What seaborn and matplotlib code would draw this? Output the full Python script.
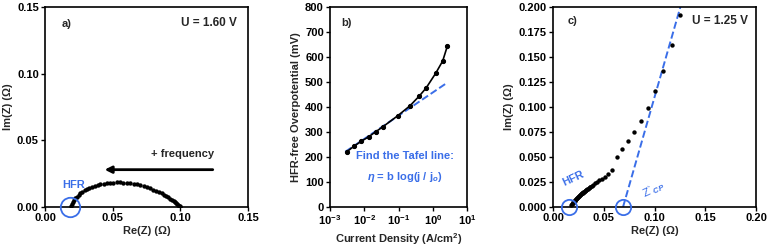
import numpy as np
import pandas as pd
import seaborn as sns
import matplotlib.pyplot as plt
import matplotlib.ticker as mticker

# ---- data: panel a) Nyquist at 1.60 V
re_a = [0.0195, 0.0200, 0.0207, 0.0215, 0.0225, 0.0236, 0.0248, 0.0262, 0.0277, 0.0293,
        0.0310, 0.0328, 0.0347, 0.0367, 0.0388, 0.0410, 0.0433, 0.0457, 0.0481, 0.0505,
        0.0530, 0.0555, 0.0580, 0.0605, 0.0630, 0.0655, 0.0680, 0.0705, 0.0730, 0.0755,
        0.0778, 0.0800, 0.0822, 0.0843, 0.0862, 0.0880, 0.0896, 0.0911, 0.0925, 0.0938,
        0.0950, 0.0960, 0.0970, 0.0978, 0.0985, 0.0991, 0.0996, 0.1000]
im_a = [0.0005, 0.0020, 0.0035, 0.0050, 0.0064, 0.0077, 0.0090, 0.0102, 0.0113, 0.0124,
        0.0134, 0.0143, 0.0151, 0.0158, 0.0164, 0.0169, 0.0174, 0.0178, 0.0181, 0.0183,
        0.0184, 0.0184, 0.0183, 0.0181, 0.0178, 0.0174, 0.0169, 0.0163, 0.0156, 0.0148,
        0.0140, 0.0131, 0.0122, 0.0112, 0.0102, 0.0092, 0.0082, 0.0072, 0.0062, 0.0053,
        0.0044, 0.0036, 0.0028, 0.0021, 0.0015, 0.0009, 0.0004, 0.0001]
hfr_a = 0.0185

# ---- data: panel b) Tafel plot
j_b = [0.0031, 0.0050, 0.0082, 0.0135, 0.0216, 0.035, 0.095, 0.217, 0.405, 0.64, 1.22, 1.95, 2.66]
eta_b = [221, 243, 263, 281, 301, 321, 365, 405, 444, 476, 535, 584, 643]
tafel_j = [0.0028, 2.5]
tafel_eta = [221, 495]

# ---- data: panel c) Nyquist at 1.25 V
re_c = [0.0180, 0.0185, 0.0190, 0.0195, 0.0200, 0.0205, 0.0210, 0.0215, 0.0220, 0.0225,
        0.0230, 0.0235, 0.0240, 0.0245, 0.0250, 0.0255, 0.0260, 0.0265, 0.0270, 0.0275,
        0.0280, 0.0285, 0.0290, 0.0295, 0.0300, 0.0306, 0.0312, 0.0318, 0.0324, 0.0330,
        0.0337, 0.0344, 0.0352, 0.0360, 0.0369, 0.0380, 0.0396, 0.0414, 0.0434, 0.0456,
        0.0480, 0.0508, 0.0540, 0.0580,
        0.0626, 0.0682, 0.0735, 0.0798, 0.0868, 0.0937, 0.1007, 0.1083, 0.1169, 0.1248]
im_c = [0.0020, 0.0027, 0.0033, 0.0040, 0.0046, 0.0052, 0.0058, 0.0064, 0.0070, 0.0076,
        0.0081, 0.0087, 0.0092, 0.0097, 0.0102, 0.0107, 0.0112, 0.0117, 0.0122, 0.0127,
        0.0131, 0.0136, 0.0140, 0.0145, 0.0149, 0.0154, 0.0159, 0.0164, 0.0169, 0.0174,
        0.0179, 0.0185, 0.0191, 0.0197, 0.0204, 0.0212, 0.0224, 0.0237, 0.0251, 0.0267,
        0.0284, 0.0305, 0.0330, 0.0370,
        0.0503, 0.0576, 0.0656, 0.0748, 0.0861, 0.0993, 0.1159, 0.1358, 0.1616, 0.1921]
hfr_c = 0.0160
zcp_c = 0.0690
cp_line_x = [0.0690, 0.1255]
cp_line_y = [0.0, 0.2]

BLUE = "#3a6ee8"

sns.set_style("ticks")
plt.rcParams['font.family'] = ['Liberation Sans', 'DejaVu Sans']
plt.rcParams['font.weight'] = 'bold'
plt.rcParams['axes.labelweight'] = 'bold'
plt.rcParams['mathtext.fontset'] = 'custom'
plt.rcParams['mathtext.rm'] = 'Liberation Sans:bold'
plt.rcParams['mathtext.bf'] = 'Liberation Sans:bold'
plt.rcParams['mathtext.it'] = 'Liberation Sans:bold:italic'
plt.rcParams['mathtext.default'] = 'rm'

fs = 8
fig = plt.figure(figsize=(7.68, 2.5), dpi=100)
ax_a = fig.add_axes([45 / 768, 43 / 250, 203 / 768, 200 / 250])
ax_b = fig.add_axes([330 / 768, 43 / 250, 137 / 768, 200 / 250])
ax_c = fig.add_axes([553 / 768, 43 / 250, 203 / 768, 200 / 250])

for ax in (ax_a, ax_b, ax_c):
    for sp in ax.spines.values():
        sp.set_linewidth(1.2)
        sp.set_color("black")
    ax.tick_params(direction="out", length=3, width=1, labelsize=fs, pad=1.5, colors="black")

# ---- a)
sns.scatterplot(x=re_a, y=im_a, ax=ax_a, color="black", s=10, linewidth=0, zorder=3)
ax_a.plot([hfr_a], [0.0], marker="o", ms=14, mfc="none", mec=BLUE, mew=1.3,
          clip_on=False, zorder=4)
ax_a.set_xlim(0, 0.15)
ax_a.set_ylim(0, 0.15)
ax_a.set_xticks([0, 0.05, 0.10, 0.15])
ax_a.set_yticks([0, 0.05, 0.10, 0.15])
ax_a.xaxis.set_major_formatter(mticker.FormatStrFormatter("%.2f"))
ax_a.yaxis.set_major_formatter(mticker.FormatStrFormatter("%.2f"))
ax_a.set_xlabel("Re(Z) (Ω)", fontsize=fs, labelpad=2)
ax_a.set_ylabel("Im(Z) (Ω)", fontsize=fs, labelpad=3)
ax_a.annotate("", xy=(0.042, 0.028), xytext=(0.126, 0.028),
              arrowprops=dict(arrowstyle="-|>", color="black", lw=2, mutation_scale=10))
ax_a.text(0.125, 0.0395, "+ frequency", fontsize=fs, ha="right", va="center")
ax_a.text(0.021, 0.0168, "HFR", fontsize=fs, color=BLUE, ha="center", va="center")
ax_a.text(0.012, 0.137, "a)", fontsize=fs, ha="left", va="center")
ax_a.text(0.142, 0.138, "U = 1.60 V", fontsize=fs + 0.5, ha="right", va="center")

# ---- b)
sns.lineplot(x=j_b, y=eta_b, ax=ax_b, color="black", lw=1.2, marker="o", ms=3,
             mec="black", sort=False, zorder=3)
sns.lineplot(x=tafel_j, y=tafel_eta, ax=ax_b, color=BLUE, lw=1.4, ls="--",
             dashes=(4, 2.5), zorder=2)
ax_b.set_xscale("log")
ax_b.set_xlim(1e-3, 1e1)
ax_b.set_ylim(0, 800)
ax_b.set_yticks(range(0, 801, 100))
ax_b.xaxis.set_minor_locator(mticker.NullLocator())
ax_b.set_xlabel("Current Density (A/cm$^2$)", fontsize=fs, labelpad=3)
ax_b.set_ylabel("HFR-free Overpotential (mV)", fontsize=fs, labelpad=3)
ax_b.text(0.155, 204, "Find the Tafel line:", fontsize=fs, color=BLUE, ha="center", va="center")
ax_b.text(0.155, 121, r"$\it{\eta}$ = b log(j / j$_{\it{o}}$)", fontsize=fs, color=BLUE,
          ha="center", va="center")
ax_b.text(0.0022, 736, "b)", fontsize=fs, ha="left", va="center")

# ---- c)
sns.scatterplot(x=re_c, y=im_c, ax=ax_c, color="black", s=10, linewidth=0, zorder=3)
sns.lineplot(x=cp_line_x, y=cp_line_y, ax=ax_c, color=BLUE, lw=1.4, ls="--",
             dashes=(4, 2.5), zorder=2)
for xc in (hfr_c, zcp_c):
    ax_c.plot([xc], [0.0], marker="o", ms=11, mfc="none", mec=BLUE, mew=1.3,
              clip_on=False, zorder=4)
ax_c.set_xlim(0, 0.2)
ax_c.set_ylim(0, 0.2)
ax_c.set_xticks([0, 0.05, 0.10, 0.15, 0.20])
ax_c.set_yticks(np.arange(0, 0.2001, 0.025))
ax_c.xaxis.set_major_formatter(mticker.FormatStrFormatter("%.2f"))
ax_c.yaxis.set_major_formatter(mticker.FormatStrFormatter("%.3f"))
ax_c.set_xlabel("Re(Z) (Ω)", fontsize=fs, labelpad=2)
ax_c.set_ylabel("Im(Z) (Ω)", fontsize=fs, labelpad=3)
ax_c.text(0.0195, 0.0288, "HFR", fontsize=fs, color=BLUE, ha="center", va="center",
          rotation=25)
ax_c.text(0.099, 0.0172, r"Z`$_{\it{CP}}$", fontsize=fs, color=BLUE, ha="center",
          va="center", rotation=25, fontweight="normal")
ax_c.text(0.014, 0.186, "c)", fontsize=fs, ha="left", va="center")
ax_c.text(0.192, 0.186, "U = 1.25 V", fontsize=fs + 0.5, ha="right", va="center")

fig.savefig("out.png", dpi=100)
